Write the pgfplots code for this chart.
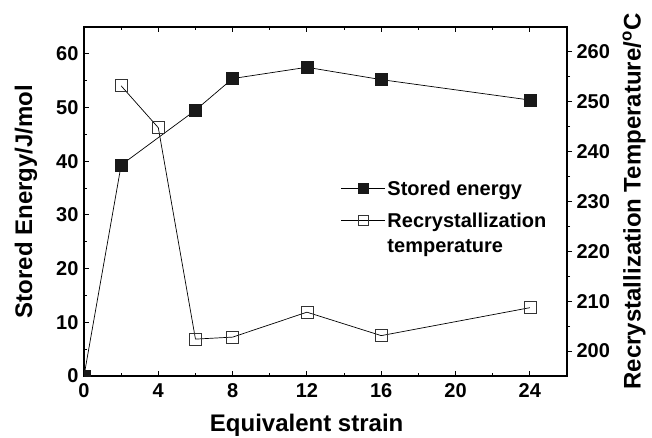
\documentclass[border=0pt]{standalone}
\usepackage{pgfplots}
\pgfplotsset{compat=1.18}
\usepackage{fontspec}
\setmainfont{Liberation Sans}
\newcommand{\legfont}{\bfseries\fontsize{20}{25}\selectfont}
\begin{document}
\begin{tikzpicture}[x=1pt,y=1pt]
\useasboundingbox (0,0) rectangle (652,437);
\pgfplotsset{
  common/.style={
    at={(84pt,61pt)}, anchor=south west, scale only axis,
    width=483pt, height=349pt,
    xmin=0, xmax=26,
    /pgf/number format/assume math mode=true,
    tick label style={font=\bfseries\fontsize{20}{22}\selectfont},
    label style={font=\bfseries\fontsize{24}{26}\selectfont},
    major tick length=5pt, minor tick length=3pt,
    every tick/.style={black, line width=0.9pt},
    axis line style={line width=1.1pt},
  }
}
\begin{axis}[common,
  ymin=0, ymax=65,
  xtick={0,4,8,12,16,20,24}, minor x tick num=1,
  ytick={0,10,20,30,40,50,60}, minor y tick num=1,
  xtick pos=both, ytick pos=left, tick align=inside,
  xlabel={Equivalent strain},
  ylabel={Stored Energy/J/mol},
  xlabel style={at={(axis description cs:0.461,-0.14)}, anchor=center},
  ylabel style={at={(axis description cs:-0.12,0.5)}, anchor=center, rotate=0},
  yticklabel style={xshift=-2pt},
  xticklabel style={yshift=-4pt},
  clip marker paths=true,
]
\addplot[black, line width=0.7pt, mark=square*, mark size=6pt,
  mark options={fill=black!90, draw=black!90}]
  coordinates {(0,0) (2,39.3) (6,49.5) (8,55.4) (12,57.5) (16,55.2) (24,51.4)};
\end{axis}
\begin{axis}[common,
  ymin=195, ymax=265,
  axis x line=none, axis y line*=right,
  ytick={200,210,220,230,240,250,260}, minor y tick num=1,
  ytick pos=right, tick align=outside,
  ylabel={Recrystallization Temperature/$^{\mathbf{o}}$C},
  ylabel style={at={(axis description cs:1.139,0.5)}, anchor=center},
  yticklabel style={xshift=1pt},
  legend style={at={(0.525,0.572)}, anchor=north west, draw=none, fill=none,
    row sep=12pt, font=\legfont,
    nodes={inner xsep=2pt}},
  legend cell align=left,
  legend image code/.code={\draw[mark repeat=2, mark phase=2, mark size=5pt] plot coordinates {(0pt,0pt) (22pt,0pt) (44pt,0pt)};},
]
\addlegendimage{black, line width=0.7pt, mark=square*, mark size=5pt, mark options={fill=black!90, draw=black!90}}
\addlegendentry{\legfont Stored energy}
\addplot[black, line width=0.7pt, mark=square, mark size=6pt,
  mark options={fill=white, draw=black!80}]
  coordinates {(2,253.2) (4,244.8) (6,202.4) (8,202.8) (12,207.8) (16,203.1) (24,208.7)};
\addlegendentry{\legfont\vtop{\hbox{Recrystallization}\hbox{temperature}}}
\end{axis}
\end{tikzpicture}
\end{document}
